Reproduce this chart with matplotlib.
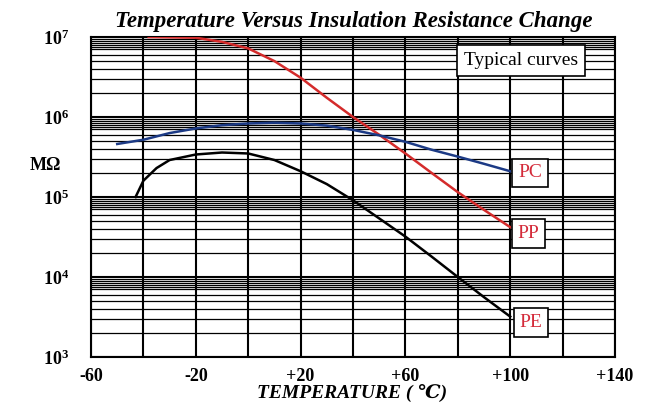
import matplotlib
matplotlib.use('Agg')
import matplotlib.pyplot as plt
from matplotlib.ticker import LogLocator, FixedLocator, NullFormatter

plt.rcParams['font.family'] = ['Liberation Serif', 'DejaVu Serif', 'DejaVu Sans']
plt.rcParams['mathtext.fontset'] = 'custom'
plt.rcParams['mathtext.rm'] = 'Liberation Serif'
plt.rcParams['mathtext.bf'] = 'Liberation Serif:bold'

# readings (temperature in C, resistance in MOhm)
t_pp = [-38, -20, -10, 0, 10, 20, 30, 40, 50, 60, 70, 80, 90, 100]
r_pp = [1.0e7, 9.8e6, 8.7e6, 7.2e6, 5.0e6, 3.1e6, 1.74e6, 1.0e6, 6.0e5, 3.5e5,
        2.0e5, 1.15e5, 6.9e4, 4.2e4]

t_pc = [-50, -40, -30, -20, -10, 0, 10, 20, 30, 40, 50, 60, 70, 80, 90, 100]
r_pc = [4.6e5, 5.2e5, 6.3e5, 7.2e5, 7.9e5, 8.3e5, 8.5e5, 8.3e5, 7.8e5, 6.9e5,
        5.9e5, 4.9e5, 3.9e5, 3.2e5, 2.6e5, 2.1e5]

t_pe = [-43, -40, -35, -30, -20, -10, 0, 10, 20, 30, 40, 50, 60, 70, 80, 90, 100]
r_pe = [1.0e5, 1.6e5, 2.3e5, 2.9e5, 3.4e5, 3.6e5, 3.5e5, 2.9e5, 2.1e5, 1.45e5,
        9.1e4, 5.4e4, 3.2e4, 1.8e4, 1.0e4, 5.6e3, 3.2e3]

x_ticks = [-60, -20, 20, 60, 100, 140]
x_labels = ['-60', '-20', '+20', '+60', '+100', '+140']
y_ticks = [1e3, 1e4, 1e5, 1e6, 1e7]
y_labels = [r'$\mathbf{10^{3}}$', r'$\mathbf{10^{4}}$', r'$\mathbf{10^{5}}$',
            r'$\mathbf{10^{6}}$', r'$\mathbf{10^{7}}$']

fig = plt.figure(figsize=(6.46, 4.05), dpi=100)
ax = fig.add_axes([0.1409, 0.1185, 0.8111, 0.7901])
ax.set_yscale('log')
ax.set_xlim(-60, 140)
ax.set_ylim(1e3, 1e7)

# grid
for xv in range(-60, 141, 20):
    ax.axvline(xv, color='black', lw=1.5, zorder=1)
ax.yaxis.set_minor_locator(LogLocator(base=10, subs=[2, 3, 4, 5, 6, 7, 7.5, 8, 8.5, 9, 9.5]))
ax.yaxis.set_minor_formatter(NullFormatter())
ax.grid(True, which='minor', axis='y', color='black', lw=0.9, zorder=1)
ax.grid(True, which='major', axis='y', color='black', lw=1.5, zorder=1)

ax.plot(t_pp, r_pp, color='#d42b2b', lw=1.8, zorder=3)
ax.plot(t_pc, r_pc, color='#1c3a85', lw=1.8, zorder=3)
ax.plot(t_pe, r_pe, color='black', lw=1.8, zorder=3)

ax.xaxis.set_major_locator(FixedLocator(x_ticks))
ax.set_xticklabels(x_labels, fontsize=13, fontweight='bold')
ax.yaxis.set_major_locator(FixedLocator(y_ticks))
ax.set_yticklabels(y_labels, fontsize=13)
ax.tick_params(axis='both', which='both', length=0)
ax.tick_params(axis='x', pad=8)
ax.tick_params(axis='y', pad=16)
for s in ax.spines.values():
    s.set_linewidth(1.5)

box = dict(boxstyle='square,pad=0.3', fc='white', ec='black', lw=1.2)
ax.text(107.5, 2.0e5, 'PC', color='#d42b3a', fontsize=14, ha='center', va='center', bbox=box, zorder=5)
ax.text(107, 3.5e4, 'PP', color='#d42b3a', fontsize=14, ha='center', va='center', bbox=box, zorder=5)
ax.text(108, 2.7e3, 'PE', color='#d42b3a', fontsize=14, ha='center', va='center', bbox=box, zorder=5)
ax.text(104, 5.1e6, 'Typical curves', color='black', fontsize=14, ha='center', va='center',
        bbox=dict(boxstyle='square,pad=0.35', fc='white', ec='black', lw=1.2), zorder=5)

fig.text(0.548, 0.948, 'Temperature Versus Insulation Resistance Change',
         fontsize=16.5, fontweight='bold', fontstyle='italic', ha='center', va='center')
fig.text(0.545, 0.03, 'TEMPERATURE ( \u2103)', fontsize=14, fontweight='bold',
         fontstyle='italic', ha='center', va='center')
fig.text(0.07, 1 - 165 / 405, 'M\u03a9', fontsize=13, fontweight='bold', ha='center', va='center')

fig.savefig('out.png', dpi=100)
